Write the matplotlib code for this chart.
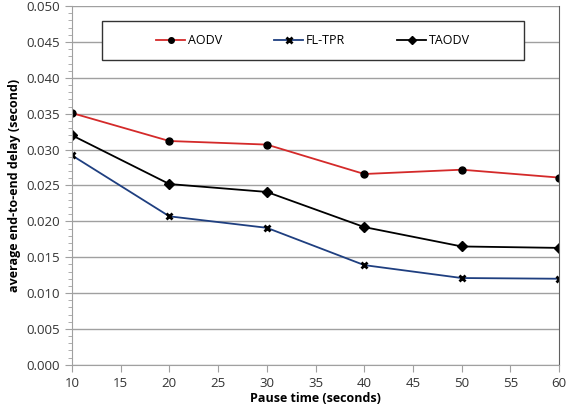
import numpy as np
import matplotlib.pyplot as plt
from matplotlib.ticker import MultipleLocator
from matplotlib.patches import Rectangle

pause = [10, 20, 30, 40, 50, 60]
aodv = [0.0351, 0.0312, 0.0307, 0.0266, 0.0272, 0.0261]
fltpr = [0.0292, 0.0207, 0.0191, 0.0139, 0.0121, 0.0120]
taodv = [0.0320, 0.0252, 0.0241, 0.0192, 0.0165, 0.0163]

plt.rcParams['font.family'] = ['Open Sans', 'DejaVu Sans']

fig = plt.figure(figsize=(5.66, 4.09), dpi=100)
ax = fig.add_axes([0.127, 0.108, 0.861, 0.877])

ax.plot(pause, aodv, color='#d42a2a', lw=1.3, marker='o', ms=5, mfc='black', mec='black', label='AODV')
ax.plot(pause, fltpr, color='#1f3f80', lw=1.3, marker='x', ms=5, mew=2, mec='black', label='FL-TPR')
ax.plot(pause, taodv, color='black', lw=1.3, marker='D', ms=5, mfc='black', mec='black', label='TAODV')

ax.set_xlim(10, 60)
ax.set_ylim(0, 0.05)
ax.xaxis.set_major_locator(MultipleLocator(5))
ax.yaxis.set_major_locator(MultipleLocator(0.005))
ax.yaxis.set_minor_locator(MultipleLocator(0.001))
ax.yaxis.set_major_formatter(plt.FormatStrFormatter('%.3f'))
ax.grid(axis='y', which='major', color='#a0a0a0', lw=1)
ax.set_axisbelow(True)

for s in ['left', 'bottom']:
    ax.spines[s].set_color('#a0a0a0')
ax.spines['top'].set_visible(False)
ax.spines['right'].set_color('#606060')
ax.tick_params(axis='both', which='both', direction='out', colors='#a0a0a0', labelcolor='#333333', labelsize=9.5)
ax.tick_params(axis='y', which='major', length=5)
ax.tick_params(axis='y', which='minor', length=3)
ax.tick_params(axis='x', length=5)

ax.set_xlabel('Pause time (seconds)', fontsize=9, fontweight='bold', labelpad=2)
ax.set_ylabel('average end-to-end delay (second)', fontsize=9, fontweight='bold', labelpad=4)

# legend box
box = Rectangle((0.062, 0.850), 0.866, 0.108, transform=ax.transAxes, facecolor='white',
                edgecolor='#333333', lw=1, zorder=4)
ax.add_patch(box)
leg = ax.legend(loc='center', bbox_to_anchor=(0.495, 0.904), ncol=3, frameon=False,
                fontsize=9, handlelength=2.3, handletextpad=0.2, columnspacing=4.2,
                markerscale=0.8)
leg.set_zorder(5)

fig.savefig('out.png', dpi=100)
